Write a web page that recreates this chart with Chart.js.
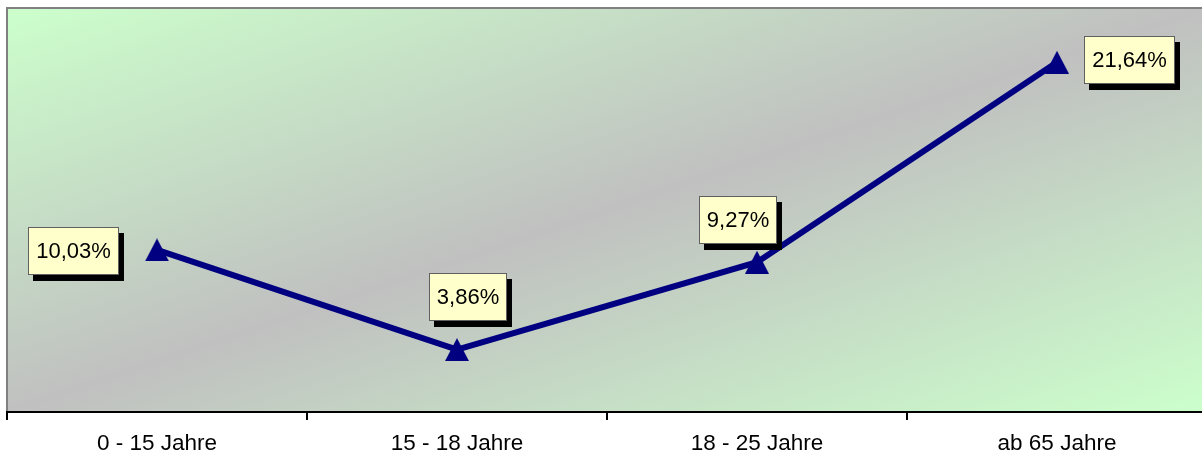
<!DOCTYPE html>
<html>
<head>
<meta charset="utf-8">
<script src="https://cdn.jsdelivr.net/npm/chart.js@4/dist/chart.umd.min.js"></script>
<style>
  html, body { margin: 0; padding: 0; background: #fff; overflow: hidden; }
  #wrap { width: 1212px; height: 457px; }
</style>
</head>
<body>
<div id="wrap"><canvas id="myChart"></canvas></div>
<script>
var categories = ['0 - 15 Jahre', '15 - 18 Jahre', '18 - 25 Jahre', 'ab 65 Jahre'];
var values = [10.03, 3.86, 9.27, 21.64];
var valueLabels = ['10,03%', '3,86%', '9,27%', '21,64%'];
// Label box centre relative to its point (px)
var labelOffsets = [[-84, 1], [11, -53], [-19, -42], [72, -2]];

// Dreieck-Marker (zentriert)
var tri = document.createElement('canvas');
tri.width = 24;
tri.height = 23;
var tctx = tri.getContext('2d');
tctx.fillStyle = '#000080';
tctx.beginPath();
tctx.moveTo(12, 0);
tctx.lineTo(24, 23);
tctx.lineTo(0, 23);
tctx.closePath();
tctx.fill();

// Hintergrund (Verlauf) und Rahmen
var plotBackground = {
    id: 'plotBackground',
    beforeDraw: function(chart) {
        var a = chart.chartArea, ctx = chart.ctx;
        var cx = (a.left + a.right) / 2, cy = (a.top + a.bottom) / 2;
        var w = a.right - a.left, h = a.bottom - a.top;
        var len = Math.sqrt(w * w + h * h);
        var ux = h / len, uy = w / len;
        var t = (w / 2 * h + h / 2 * w) / len;
        var g = ctx.createLinearGradient(cx - ux * t, cy - uy * t, cx + ux * t, cy + uy * t);
        g.addColorStop(0, '#ccffcc');
        g.addColorStop(0.5, '#c0c0c0');
        g.addColorStop(1, '#ccffcc');
        ctx.save();
        ctx.fillStyle = g;
        ctx.fillRect(a.left, a.top, w, h);
        ctx.strokeStyle = '#808080';
        ctx.lineWidth = 2;
        ctx.beginPath();
        ctx.moveTo(a.left, a.bottom);
        ctx.lineTo(a.left, a.top);
        ctx.lineTo(a.right, a.top);
        ctx.stroke();
        ctx.restore();
    }
};

// Datenbeschriftungen mit Schatten
var valueBoxes = {
    id: 'valueBoxes',
    afterDatasetsDraw: function(chart) {
        var ctx = chart.ctx;
        var meta = chart.getDatasetMeta(0);
        ctx.save();
        ctx.font = '22px "Liberation Sans", Arial, sans-serif';
        ctx.textAlign = 'center';
        ctx.textBaseline = 'middle';
        meta.data.forEach(function(pt, i) {
            var txt = valueLabels[i];
            var bw = Math.round(ctx.measureText(txt).width) + 16;
            var bh = 48;
            var cx = pt.x + labelOffsets[i][0];
            var cy = pt.y + labelOffsets[i][1];
            var x = Math.round(cx - bw / 2), y = Math.round(cy - bh / 2);
            ctx.fillStyle = '#000';
            ctx.fillRect(x + 5, y + 6, bw, bh);
            ctx.fillStyle = '#ffffcc';
            ctx.fillRect(x, y, bw, bh);
            ctx.strokeStyle = '#606060';
            ctx.lineWidth = 1;
            ctx.strokeRect(x + 0.5, y + 0.5, bw - 1, bh - 1);
            ctx.fillStyle = '#000';
            ctx.fillText(txt, x + bw / 2, y + bh / 2 + 1);
        });
        ctx.restore();
    }
};

document.addEventListener('DOMContentLoaded', function() {
    var ctx = document.getElementById('myChart').getContext('2d');
    var myChart = new Chart(ctx, {
        type: 'line',
        data: {
            labels: categories,
            datasets: [{
                data: values,
                borderColor: '#000080',
                backgroundColor: '#000080',
                borderWidth: 6,
                pointStyle: tri,
                pointRadius: 12,
                tension: 0
            }]
        },
        options: {
            responsive: true,
            maintainAspectRatio: false,
            animation: false,
            layout: { autoPadding: false, padding: { left: 7, top: 8, right: 5, bottom: 0 } },
            plugins: {
                legend: { display: false },
                tooltip: { enabled: false }
            },
            scales: {
                x: {
                    offset: true,
                    afterFit: function(scale) { scale.height = 45; },
                    grid: {
                        offset: true,
                        drawOnChartArea: false,
                        drawTicks: true,
                        tickLength: 8,
                        color: '#000',
                        lineWidth: 2
                    },
                    border: { display: true, color: '#000', width: 2 },
                    ticks: {
                        color: '#000',
                        padding: 10,
                        maxRotation: 0,
                        font: { family: '"Liberation Sans", Arial, sans-serif', size: 22.5 }
                    }
                },
                y: {
                    display: false,
                    min: 0,
                    max: 25
                }
            }
        },
        plugins: [plotBackground, valueBoxes]
    });
});
</script>
</body>
</html>
